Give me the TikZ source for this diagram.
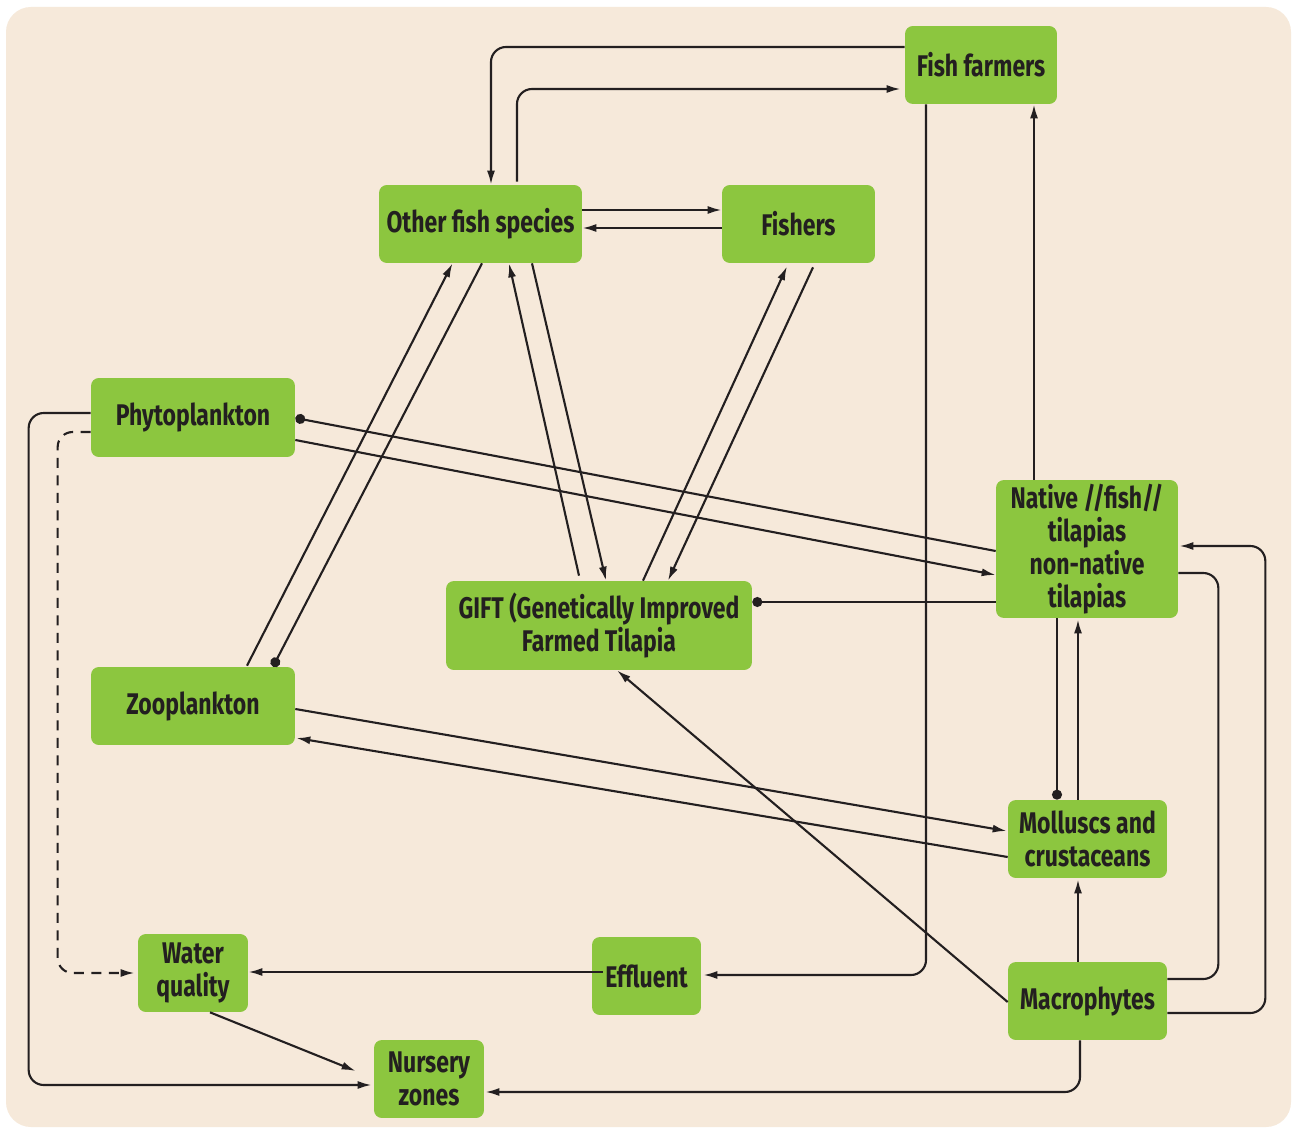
\documentclass[tikz,border=0pt]{standalone}
\usepackage{fontspec}
\setmainfont{Fira Sans}[FakeStretch=0.77]
\usetikzlibrary{arrows.meta,calc}
\definecolor{boxgreen}{HTML}{8CC63F}
\definecolor{paper}{HTML}{F6E9DA}
\definecolor{ink}{HTML}{231F20}

\begin{document}
\begin{tikzpicture}[x=0.02cm,y=-0.02cm,
    box/.style={rectangle,rounded corners=4.5pt,fill=boxgreen,text=ink,align=center,inner sep=0pt,
      font=\bfseries\fontsize{17}{18.7}\selectfont},
    wire/.style={draw=ink,line width=1.2pt,rounded corners=0.3cm},
    link/.style={wire,-{Latex[length=2.8mm,width=1.6mm]}},
    dotlink/.style={wire,-{Circle[length=2mm]}}]
  \fill[white] (0,0) rectangle (1295,1128);
  \fill[paper,rounded corners=0.5cm] (6,7) rectangle (1291,1127);
  \useasboundingbox (0,0) rectangle (1295,1128);

  \node[box,minimum width=3.04cm,minimum height=1.56cm] (farmers) at (981,65) {Fish farmers};
  \node[box,minimum width=4.06cm,minimum height=1.56cm] (other) at (480.5,224) {Other fish species};
  \node[box,minimum width=3.06cm,minimum height=1.56cm] (fishers) at (798.5,224) {Fishers};
  \node[box,minimum width=4.08cm,minimum height=1.58cm] (phyto) at (193,417.5) {Phytoplankton};
  \node[box,minimum width=3.64cm,minimum height=2.76cm] (native) at (1087,549) {Native //fish//\\tilapias\\non-native\\tilapias};
  \node[box,minimum width=6.12cm,minimum height=1.78cm] (gift) at (599,625.5) {GIFT (Genetically Improved\\Farmed Tilapia};
  \node[box,minimum width=4.08cm,minimum height=1.56cm] (zoo) at (193,706) {Zooplankton};
  \node[box,minimum width=3.18cm,minimum height=1.56cm] (mollusc) at (1087.5,839) {Molluscs and\\crustaceans};
  \node[box,minimum width=2.2cm,minimum height=1.56cm] (water) at (193,973) {Water\\quality};
  \node[box,minimum width=2.18cm,minimum height=1.56cm] (effluent) at (646.5,976) {Effluent};
  \node[box,minimum width=3.18cm,minimum height=1.56cm] (macro) at (1087.5,1001) {Macrophytes};
  \node[box,minimum width=2.2cm,minimum height=1.56cm] (nursery) at (429,1079) {Nursery\\zones};

  \draw[link] ($(farmers.west)+(0,-18)$) -| ($(other.north)+(10.5,0)$);
  \draw[link] ($(other.north)+(36.5,-3)$) |- ($(farmers.west)+(-4,24)$);
  \draw[link] ($(other.east)+(0,-14)$) -- ($(fishers.west)+(0,-14)$);
  \draw[link] ($(fishers.west)+(0,4)$) -- ($(other.east)+(0,4)$);
  \draw[link] ($(farmers.south)+(-55,0)$) |- ($(effluent.east)+(2,-1)$);
  \draw[link] ($(native.north)+(-53,0)$) -- ($(farmers.south)+(53,0)$);

  \draw[link] ($(zoo.north)+(54,-1)$) -- ($(other.south)+(-28,0)$);
  \draw[dotlink] ($(other.south)+(1.5,0)$) -- ($(zoo.north)+(80,0)$);
  \draw[link] ($(gift.north)+(-20,-5)$) -- ($(other.south)+(28.5,0)$);
  \draw[link] ($(other.south)+(51.5,0)$) -- ($(gift.north)+(7,0)$);
  \draw[link] ($(gift.north)+(44,0)$) -- ($(fishers.south)+(-11.5,3)$);
  \draw[link] ($(fishers.south)+(14.5,4)$) -- ($(gift.north)+(69,0)$);

  \draw[dotlink] ($(native.west)+(0,2)$) -- ($(phyto.east)+(0,0.5)$);
  \draw[link] ($(phyto.east)+(0,22.5)$) -- ($(native.west)+(0,26)$);
  \draw[dotlink] ($(native.west)+(0,53)$) -- ($(gift.east)+(0,-23.5)$);
  \draw[dotlink] ($(native.south)+(-30,0)$) -- ($(mollusc.north)+(-30.5,0)$);
  \draw[link] ($(mollusc.north)+(-9.5,0)$) -- ($(native.south)+(-9,1)$);

  \draw[link] ($(zoo.east)+(0,3)$) -- ($(mollusc.west)+(-1,-8)$);
  \draw[link] ($(mollusc.west)+(0,18)$) -- ($(zoo.east)+(1,32)$);
  \draw[link] ($(macro.north)+(-9.5,0)$) -- ($(mollusc.south)+(-9.5,1)$);
  \draw[link] ($(macro.east)+(0,12)$) -| ($(native.east)+(87,-3)$) -- ($(native.east)+(1,-3)$);
  \draw[wire] ($(native.east)+(0,24)$) -| ($(macro.east)+(51,-22)$) -- ($(macro.east)+(0,-22)$);
  \draw[link] ($(macro.west)+(0,1)$) -- ($(gift.south)+(18,0)$);
  \draw[link] ($(macro.south)+(-7.5,0)$) |- ($(nursery.east)+(1,13)$);

  \draw[link] ($(effluent.west)+(11,-4)$) -- ($(water.east)+(0,-1)$);
  \draw[link,dash pattern=on 2mm off 1.5mm] ($(phyto.west)+(0,14.5)$) -| ($(water.west)+(-80,0)$) -- ($(water.west)+(-3,0)$);
  \draw[link] ($(phyto.west)+(0,-4.5)$) -| ($(nursery.west)+(-345,6)$) -- ($(nursery.west)+(-2,6)$);
  \draw[link] ($(water.south)+(17,0)$) -- ($(nursery.west)+(-18,-8)$);
\end{tikzpicture}
\end{document}
